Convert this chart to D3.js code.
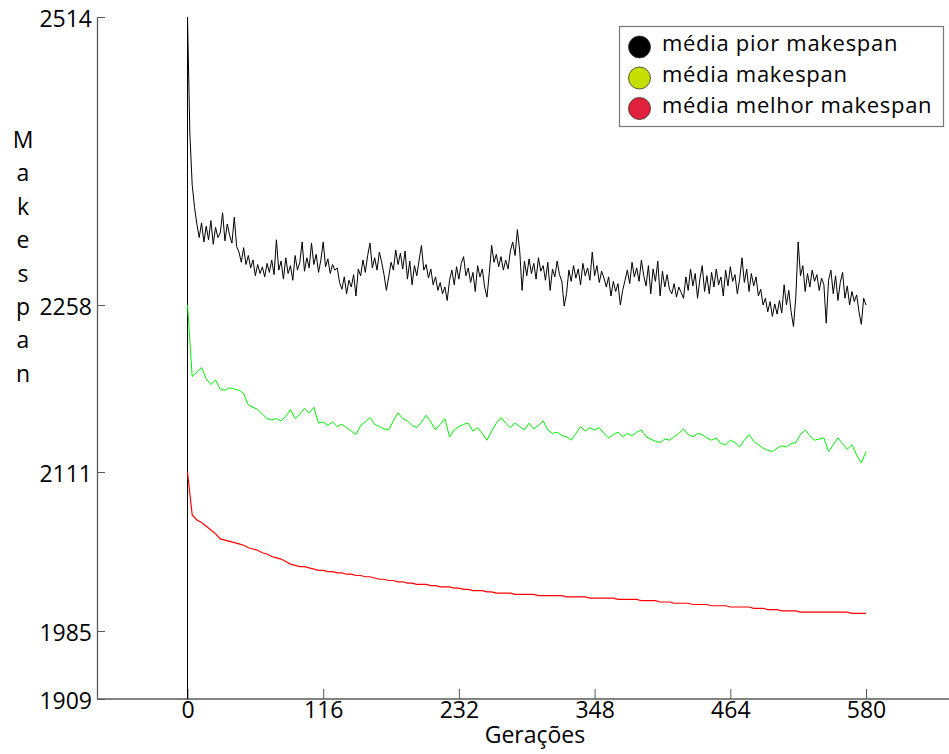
<!DOCTYPE html>
<html>
<head>
<meta charset="utf-8">
<script src="https://cdn.jsdelivr.net/npm/d3@7"></script>
<style>
  html, body { margin: 0; padding: 0; background: #fff; }
  svg { display: block; font-family: "Open Sans", sans-serif; }
</style>
</head>
<body>
<svg id="chart" width="949" height="754"></svg>
<script>
// Average worst makespan per generation (every 2nd generation)
const worstMakespan = [
  2514, 2411, 2365, 2345, 2330, 2318, 2331, 2314, 2328, 2316,
  2333, 2312, 2327, 2318, 2322, 2340, 2315, 2330, 2320, 2313,
  2336, 2310, 2305, 2296, 2309, 2294, 2302, 2291, 2298, 2284,
  2294, 2286, 2292, 2283, 2295, 2287, 2298, 2285, 2316, 2289,
  2297, 2281, 2300, 2286, 2293, 2280, 2302, 2289, 2296, 2314,
  2288, 2300, 2291, 2313, 2294, 2303, 2287, 2298, 2314, 2292,
  2299, 2286, 2294, 2289, 2291, 2278, 2272, 2283, 2268, 2280,
  2274, 2285, 2266, 2290, 2284, 2298, 2287, 2302, 2313, 2291,
  2300, 2289, 2305, 2296, 2285, 2271, 2283, 2296, 2289, 2307,
  2294, 2304, 2290, 2306, 2281, 2297, 2276, 2293, 2284, 2298,
  2311, 2289, 2294, 2282, 2290, 2276, 2283, 2271, 2278, 2268,
  2274, 2262, 2280, 2289, 2276, 2292, 2281, 2295, 2301, 2284,
  2291, 2278, 2287, 2270, 2293, 2283, 2290, 2274, 2265, 2287,
  2311, 2296, 2303, 2292, 2301, 2289, 2298, 2290, 2306, 2314,
  2302, 2325, 2306, 2271, 2297, 2284, 2299, 2286, 2295, 2281,
  2300, 2288, 2293, 2280, 2296, 2271, 2290, 2283, 2297, 2285,
  2279, 2257, 2268, 2289, 2279, 2293, 2282, 2290, 2276, 2295,
  2284, 2291, 2280, 2305, 2284, 2293, 2278, 2288, 2282, 2274,
  2283, 2266, 2279, 2270, 2277, 2258, 2271, 2280, 2289, 2277,
  2296, 2283, 2291, 2279, 2298, 2284, 2275, 2293, 2268, 2290,
  2279, 2297, 2266, 2288, 2274, 2285, 2272, 2268, 2277, 2265,
  2274, 2269, 2264, 2283, 2271, 2290, 2275, 2286, 2264, 2281,
  2293, 2270, 2284, 2268, 2287, 2274, 2290, 2276, 2283, 2266,
  2289, 2275, 2292, 2279, 2285, 2268, 2281, 2300, 2278, 2290,
  2270, 2286, 2275, 2283, 2266, 2272, 2258, 2264, 2252, 2261,
  2248, 2259, 2250, 2262, 2251, 2276, 2258, 2271, 2252, 2239,
  2265, 2314, 2284, 2293, 2270, 2286, 2274, 2289, 2279, 2285,
  2271, 2282, 2276, 2242, 2280, 2289, 2268, 2284, 2262, 2278,
  2287, 2264, 2275, 2258, 2270, 2261, 2267, 2252, 2241, 2264,
  2258
];

// Average makespan per generation (every 4th generation)
const meanMakespan = [
  2258, 2195, 2199, 2203, 2193, 2188, 2192, 2184, 2183, 2185,
  2184, 2183, 2180, 2170, 2168, 2166, 2162, 2158, 2157, 2158,
  2156, 2160, 2166, 2158, 2162, 2167, 2163, 2168, 2154, 2155,
  2152, 2155, 2151, 2153, 2150, 2147, 2144, 2152, 2155, 2159,
  2153, 2151, 2149, 2148, 2156, 2163, 2158, 2156, 2152, 2150,
  2155, 2161, 2155, 2148, 2153, 2158, 2142, 2148, 2151, 2153,
  2154, 2147, 2150, 2145, 2139, 2147, 2154, 2159, 2154, 2150,
  2154, 2151, 2148, 2154, 2149, 2152, 2156, 2148, 2145, 2146,
  2143, 2142, 2139, 2145, 2151, 2147, 2150, 2148, 2150, 2145,
  2141, 2144, 2146, 2142, 2145, 2143, 2146, 2148, 2142, 2140,
  2138, 2137, 2140, 2139, 2142, 2145, 2149, 2144, 2142, 2145,
  2144, 2141, 2139, 2141, 2136, 2135, 2139, 2137, 2133, 2139,
  2144, 2138, 2135, 2132, 2130, 2129, 2132, 2134, 2133, 2136,
  2137, 2144, 2148, 2143, 2139, 2140, 2141, 2129, 2135, 2141,
  2136, 2131, 2135, 2126, 2119, 2129
];

// Average best makespan per generation (every 4th generation)
const bestMakespan = [
  2111, 2077, 2073, 2071, 2068, 2065, 2062, 2058, 2057, 2056,
  2055, 2054, 2053, 2051, 2050, 2049, 2047, 2046, 2044, 2043,
  2042, 2040, 2038, 2037, 2036, 2036, 2035, 2034, 2033, 2033,
  2032, 2032, 2031, 2031, 2030, 2030, 2029, 2029, 2028, 2028,
  2027, 2026, 2026, 2025, 2025, 2024, 2024, 2023, 2023, 2022,
  2022, 2022, 2021, 2021, 2020, 2020, 2020, 2019, 2019, 2018,
  2018, 2017, 2017, 2017, 2016, 2016, 2015, 2015, 2015, 2015,
  2014, 2014, 2014, 2014, 2014, 2013, 2013, 2013, 2013, 2013,
  2013, 2012, 2012, 2012, 2012, 2012, 2011, 2011, 2011, 2011,
  2011, 2011, 2010, 2010, 2010, 2010, 2010, 2009, 2009, 2009,
  2009, 2008, 2008, 2008, 2007, 2007, 2007, 2007, 2006, 2006,
  2006, 2006, 2005, 2005, 2005, 2005, 2004, 2004, 2004, 2004,
  2004, 2003, 2003, 2003, 2002, 2002, 2002, 2001, 2001, 2001,
  2001, 2000, 2000, 2000, 2000, 2000, 2000, 2000, 2000, 2000,
  2000, 2000, 1999, 1999, 1999, 1999
];

const worstGenerations = d3.range(0, 581, 2);
const generations = d3.range(0, 581, 4);

const xTicks = [0, 116, 232, 348, 464, 580];
const yTicks = [1909, 1985, 2111, 2258, 2514];

const seriesLabels = ["média pior makespan", "média makespan", "média melhor makespan"];
const lineColors = ["#000000", "#00f000", "#ff0000"];
const legendColors = ["#000000", "#c4df00", "#e2213d"];
const yTitle = "Makespan";
const xTitle = "Gerações";

const svg = d3.select("#chart");
const fontSize = 23;
const axisColor = "#5a5a5a";

// Scales: generation axis and a piecewise makespan axis anchored on the tick values
const x = d3.scaleLinear().domain([0, 580]).range([187.5, 866]);
const y = d3.scaleLinear().domain(yTicks).range([699, 631, 472, 305, 17]);

const plotLeft = 97, plotRight = 949, plotBottom = y(yTicks[0]);

// X axis
const gx = svg.append("g")
  .attr("transform", `translate(0,${plotBottom})`)
  .call(d3.axisBottom(x).tickValues(xTicks).tickSize(-10).tickSizeOuter(0).tickPadding(3));
gx.select(".domain").remove();
gx.selectAll(".tick line").attr("stroke", axisColor);
gx.selectAll(".tick text").attr("font-size", fontSize).attr("font-family", "Open Sans").attr("fill", "#000");
gx.append("line")
  .attr("x1", plotLeft).attr("x2", plotRight)
  .attr("stroke", axisColor).attr("stroke-width", 1.3);

// Y axis
const gy = svg.append("g")
  .attr("transform", `translate(${plotLeft},0)`)
  .call(d3.axisLeft(y).tickValues(yTicks).tickFormat(d3.format("d")).tickSize(-8).tickSizeOuter(0).tickPadding(5));
gy.select(".domain").attr("stroke", axisColor).attr("stroke-width", 1.3);
gy.selectAll(".tick line").attr("stroke", axisColor);
gy.selectAll(".tick text").attr("font-size", fontSize).attr("font-family", "Open Sans")
  .attr("fill", "#000").attr("dy", "0.4em");

// Axis titles
svg.append("text")
  .attr("x", x(297))
  .attr("y", 743)
  .attr("text-anchor", "middle")
  .attr("font-size", fontSize)
  .text(xTitle);

svg.append("g").selectAll("text")
  .data(yTitle.split(""))
  .join("text")
  .attr("x", 23)
  .attr("y", (d, i) => 148 + i * 33.4)
  .attr("text-anchor", "middle")
  .attr("font-size", fontSize)
  .text(d => d);

// Series lines
const line = d3.line().x(d => x(d[0])).y(d => y(d[1]));

// start-up rule of the worst-makespan trace at generation 0
svg.append("line")
  .attr("x1", x(0)).attr("x2", x(0))
  .attr("y1", y(yTicks[0])).attr("y2", y(worstMakespan[0]))
  .attr("stroke", lineColors[0]).attr("stroke-width", 1);

const series = [
  { gens: worstGenerations, values: worstMakespan, color: lineColors[0], width: 1 },
  { gens: generations, values: meanMakespan, color: lineColors[1], width: 1 },
  { gens: generations, values: bestMakespan, color: lineColors[2], width: 1.2 }
];

series.forEach(s => {
  svg.append("path")
    .datum(s.gens.map((g, i) => [g, s.values[i]]))
    .attr("fill", "none")
    .attr("stroke", s.color)
    .attr("stroke-width", s.width)
    .attr("stroke-linejoin", "miter")
    .attr("d", line);
});

// Legend
const legend = svg.append("g");
legend.append("rect")
  .attr("x", 619.5).attr("y", 26.5)
  .attr("width", 324).attr("height", 100)
  .attr("fill", "#fff").attr("stroke", "#777").attr("stroke-width", 1.2);

const legendRows = [47, 78, 108.5];
legend.selectAll("circle")
  .data(seriesLabels)
  .join("circle")
  .attr("cx", 639.5)
  .attr("cy", (d, i) => legendRows[i])
  .attr("r", 11)
  .attr("fill", (d, i) => legendColors[i])
  .attr("stroke", "#333")
  .attr("stroke-width", 0.8);

legend.selectAll("text")
  .data(seriesLabels)
  .join("text")
  .attr("x", 662)
  .attr("y", (d, i) => legendRows[i] + 4)
  .attr("font-size", 22)
  .attr("letter-spacing", 0.7)
  .text(d => d);
</script>
</body>
</html>
